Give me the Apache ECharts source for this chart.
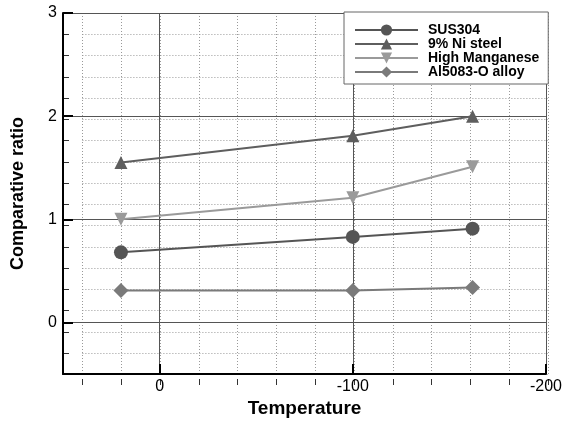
<!DOCTYPE html>
<html>
<head>
<meta charset="utf-8">
<script src="https://cdn.jsdelivr.net/npm/echarts@6/dist/echarts.min.js"></script>
<style>
html,body{margin:0;padding:0;background:#fff;}
#chart{width:565px;height:423px;}
</style>
</head>
<body>
<div id="chart"></div>
<script>
// ---- data ----
const temperatures = [20, -100, -162];
const seriesNames = ['SUS304', '9% Ni steel', 'High Manganese', 'Al5083-O alloy'];
const sus304 = [0.68, 0.83, 0.91];
const niSteel = [1.55, 1.81, 2.00];
const highMn = [1.00, 1.21, 1.51];
const al5083 = [0.31, 0.31, 0.34];
const xTickLabels = ['0', '-100', '-200'];
const yTickLabels = ['0', '1', '2', '3'];

// ---- layout ----
const W = 565, H = 423;
const gL = 63, gR = 17, gT = 13, gB = 38;
const xMin = -200, xMax = 50, yMin = -0.5, yMax = 3;
const pw = W - gL - gR, ph = H - gT - gB;
// minor grid (aligned copy)
const mxMax = 40, myMin = -0.4;
const mL = gL + pw * (xMax - mxMax) / (xMax - xMin);
const mB = gB + ph * (myMin - yMin) / (yMax - yMin);

const font = 'Liberation Sans, Arial, sans-serif';

function mk(name, data, color, symbol, size, rotate) {
  return {
    name: name, type: 'line', xAxisIndex: 1, yAxisIndex: 1,
    data: temperatures.map((t, i) => [t, data[i]]),
    symbol: symbol, symbolSize: size, symbolRotate: rotate || 0,
    lineStyle: {color: color, width: 2},
    itemStyle: {color: color},
    z: 5
  };
}

const chart = echarts.init(document.getElementById('chart'), null, {renderer: 'canvas'});
chart.setOption({
  animation: false,
  backgroundColor: '#fff',
  grid: [
    {left: mL, right: gR, top: gT, bottom: mB, containLabel: false},
    {left: gL, right: gR, top: gT, bottom: gB, containLabel: false}
  ],
  xAxis: [
    {
      gridIndex: 0, type: 'value', min: xMin, max: mxMax, interval: 20, inverse: true,
      offset: mB - gB, z: 0,
      axisLine: {show: false, onZero: false},
      axisTick: {show: true, inside: true, length: 6, lineStyle: {color: '#333', width: 1}},
      axisLabel: {show: false},
      splitLine: {show: true, lineStyle: {color: '#999', width: 1, type: [1, 2]}}
    },
    {
      gridIndex: 1, type: 'value', min: xMin, max: xMax, interval: 100, inverse: true, z: 1,
      name: 'Temperature', nameLocation: 'middle', nameGap: 17,
      nameTextStyle: {fontFamily: font, fontSize: 19, fontWeight: 'bold', color: '#000'},
      axisLine: {show: true, onZero: false, lineStyle: {color: '#000', width: 2}},
      axisTick: {show: true, inside: true, length: 10, lineStyle: {color: '#000', width: 2}},
      axisLabel: {
        fontFamily: font, fontSize: 16, color: '#000', margin: 4,
        formatter: v => { const s = String(v); return xTickLabels.indexOf(s) >= 0 ? s : ''; }
      },
      splitLine: {show: true, lineStyle: {color: '#555', width: 1}}
    }
  ],
  yAxis: [
    {
      gridIndex: 0, type: 'value', min: myMin, max: yMax, interval: 0.2,
      offset: mL - gL, z: 0,
      axisLine: {show: false, onZero: false},
      axisTick: {show: true, inside: true, length: 6, lineStyle: {color: '#333', width: 1}},
      axisLabel: {show: false},
      splitLine: {show: true, lineStyle: {color: '#999', width: 1, type: [1, 2]}}
    },
    {
      gridIndex: 1, type: 'value', min: yMin, max: yMax, splitNumber: 4, z: 1,
      name: 'Comparative ratio', nameLocation: 'middle', nameGap: 36,
      nameTextStyle: {fontFamily: font, fontSize: 18, fontWeight: 'bold', color: '#000'},
      axisLine: {show: true, onZero: false, lineStyle: {color: '#000', width: 2}},
      axisTick: {show: true, inside: true, length: 10, lineStyle: {color: '#000', width: 2}},
      axisLabel: {
        fontFamily: font, fontSize: 16, color: '#000', margin: 6,
        formatter: v => { const s = String(v); return yTickLabels.indexOf(s) >= 0 ? s : ''; }
      },
      splitLine: {show: true, lineStyle: {color: '#555', width: 1}}
    }
  ],
  legend: {
    show: true, orient: 'vertical', left: 344, top: 12,
    padding: [11, 9, 5, 10], itemGap: 0, itemWidth: 63, itemHeight: 14,
    backgroundColor: '#fff', borderColor: '#666', borderWidth: 1,
    textStyle: {fontFamily: font, fontSize: 14, fontWeight: 'bold', color: '#000', padding: [0, 0, 0, 5]},
    data: seriesNames
  },
  series: [
    mk(seriesNames[0], sus304, '#555555', 'circle', 14),
    mk(seriesNames[1], niSteel, '#5e5e5e', 'triangle', 13),
    mk(seriesNames[2], highMn, '#9a9a9a', 'triangle', 13, 180),
    mk(seriesNames[3], al5083, '#7a7a7a', 'diamond', 15)
  ]
});
</script>
</body>
</html>
